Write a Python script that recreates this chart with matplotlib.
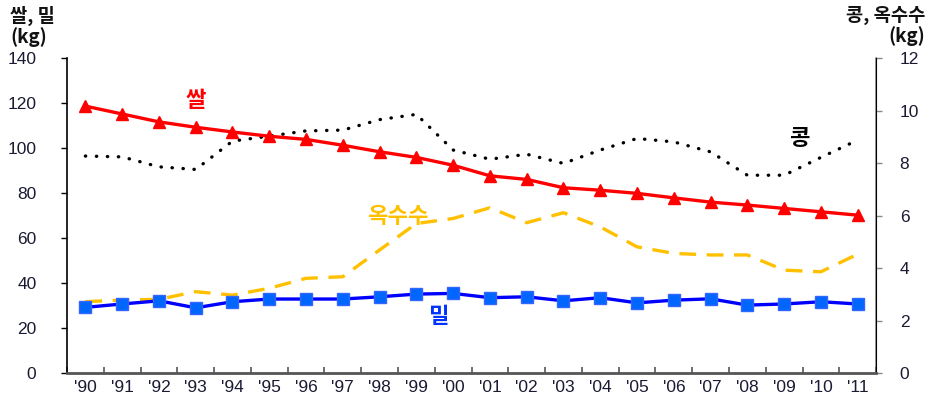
import numpy as np
import matplotlib
matplotlib.use("Agg")
import matplotlib.pyplot as plt

# ---------------- data (kg per capita) ---------------- #
years = ["'90", "'91", "'92", "'93", "'94", "'95", "'96", "'97", "'98", "'99", "'00",
         "'01", "'02", "'03", "'04", "'05", "'06", "'07", "'08", "'09", "'10", "'11"]
rice = [118.7, 115.2, 111.7, 109.3, 107.2, 105.3, 103.9, 101.3, 98.4, 95.9, 92.4,
        87.7, 86.1, 82.4, 81.3, 79.9, 77.9, 76.0, 74.7, 73.2, 71.7, 70.2]
wheat = [29.2, 30.7, 32.1, 29.0, 31.7, 32.9, 32.9, 32.9, 33.9, 35.1, 35.4,
         33.5, 33.9, 32.1, 33.5, 31.2, 32.4, 33.0, 30.2, 30.7, 31.7, 30.7]
beans = [8.27, 8.24, 7.86, 7.76, 8.84, 9.03, 9.23, 9.26, 9.66, 9.86, 8.50,
         8.15, 8.34, 7.99, 8.50, 8.94, 8.81, 8.43, 7.54, 7.54, 8.22, 8.88]
corn = [2.72, 2.78, 2.81, 3.10, 2.97, 3.23, 3.61, 3.67, 4.69, 5.70, 5.89,
        6.30, 5.73, 6.11, 5.57, 4.81, 4.56, 4.50, 4.50, 3.92, 3.86, 4.53]

KR = ["Noto Sans CJK KR", "DejaVu Sans"]
NUM = "Liberation Sans"
TXT = "#1a1a33"
TICK_FS = 12.5

x = np.arange(len(years))

fig = plt.figure(figsize=(9.33, 4.01), dpi=100)
ax = fig.add_axes([0.0718, 0.0698, 0.8672, 0.785])
ax2 = ax.twinx()

# right axis series first so they sit underneath
ax2.plot(x, beans, color="black", lw=2.4, linestyle=(0, (0.1, 3.2)),
         dash_capstyle="round", zorder=2)
ax2.plot(x, corn, color="#ffc000", lw=2.4, linestyle=(0, (5, 3.2)), zorder=2)

ax.set_zorder(ax2.get_zorder() + 1)
ax.patch.set_visible(False)
ax.plot(x, rice, color="#ff0000", lw=2.4, marker="^", markersize=9,
        markerfacecolor="#ff0000", markeredgecolor="#ff0000", zorder=3)
ax.plot(x, wheat, color="#0000ff", lw=2.4, marker="s", markersize=8,
        markerfacecolor="#0066ff", markeredgecolor="#3366ff", zorder=3)

# axes ranges
ax.set_xlim(-0.5, len(years) - 0.5)
ax.set_ylim(0, 140)
ax2.set_ylim(0, 12)
ax.set_yticks(np.arange(0, 141, 20))
ax2.set_yticks(np.arange(0, 13, 2))

# category labels at centres, tick marks between categories
ax.set_xticks(x)
ax.set_xticklabels(years, fontfamily=NUM, fontsize=TICK_FS, color=TXT)
ax.set_xticks(np.arange(-0.5, len(years)), minor=True)
ax.tick_params(axis="x", which="major", length=0, pad=5)
ax.tick_params(axis="x", which="minor", direction="in", length=4, width=1.2, color="#555555")

ax.tick_params(axis="y", direction="out", length=4, width=1, pad=18, labelsize=TICK_FS,
               labelcolor=TXT)
ax2.tick_params(axis="y", direction="out", length=4, width=1, pad=13, labelsize=TICK_FS,
                labelcolor=TXT, color="#888888")
for lab in ax.get_yticklabels() + ax2.get_yticklabels():
    lab.set_fontfamily(NUM)

for a in (ax, ax2):
    a.spines["top"].set_visible(False)
ax.spines["left"].set_color("black")
ax.spines["left"].set_linewidth(1.2)
ax.spines["bottom"].set_color("#555555")
ax.spines["bottom"].set_linewidth(2)
ax2.spines["right"].set_color("#888888")
ax2.spines["right"].set_linewidth(1.2)
ax2.spines["left"].set_visible(False)
ax2.spines["bottom"].set_visible(False)

# axis unit labels
fig.text(0.011, 0.985, "쌀, 밀\n(kg)", ha="left", va="top", fontsize=13.5,
         fontweight="bold", family=KR, linespacing=1.05, color="#111111")
fig.text(0.992, 0.985, "콩, 옥수수\n(kg)", ha="right", va="top", fontsize=13.5,
         fontweight="bold", family=KR, linespacing=1.05, color="#111111",
         multialignment="right")

# series name labels
ax.text(3.0, 121, "쌀", color="#ff0000", fontsize=16, fontweight="bold", family=KR,
        ha="center", va="center")
ax.text(9.6, 25, "밀", color="#0033ff", fontsize=16, fontweight="bold", family=KR,
        ha="center", va="center")
ax2.text(8.5, 5.95, "옥수수", color="#ffc000", fontsize=16, fontweight="bold", family=KR,
         ha="center", va="center")
ax2.text(19.4, 8.95, "콩", color="black", fontsize=16, fontweight="bold", family=KR,
         ha="center", va="center")

fig.savefig("out.png", dpi=100)
